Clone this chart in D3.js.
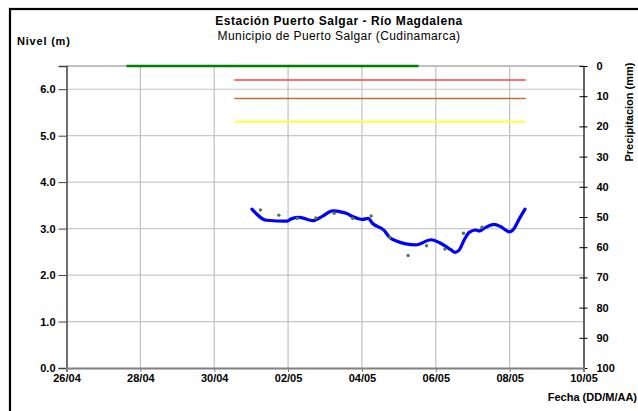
<!DOCTYPE html>
<html><head><meta charset="utf-8">
<script src="https://cdn.jsdelivr.net/npm/d3@7"></script>
<style>
html,body{margin:0;padding:0;background:#fff;overflow:hidden}
text{font-family:"Liberation Sans",Arial,sans-serif}
</style></head><body>
<svg id="c" width="638" height="411"></svg>
<script>
// ---- data ----
const levelTimes = ["2011-05-01T00:30","2011-05-01T10:00","2011-05-01T23:00","2011-05-02T02:00","2011-05-02T07:30","2011-05-02T16:00","2011-05-02T22:30","2011-05-03T05:00","2011-05-03T11:30","2011-05-03T13:45","2011-05-03T18:00","2011-05-04T00:30","2011-05-04T04:00","2011-05-04T07:00","2011-05-04T14:30","2011-05-04T18:00","2011-05-04T22:00","2011-05-05T11:00","2011-05-05T21:00","2011-05-06T02:15","2011-05-06T10:00","2011-05-06T12:30","2011-05-06T15:15","2011-05-06T18:30","2011-05-06T21:45","2011-05-07T02:00","2011-05-07T04:15","2011-05-07T07:30","2011-05-07T14:00","2011-05-07T18:15","2011-05-07T23:45","2011-05-08T03:00","2011-05-08T06:15","2011-05-08T10:00"];
const levelValues = [3.42,3.18,3.16,3.21,3.24,3.17,3.27,3.38,3.35,3.33,3.26,3.20,3.22,3.11,2.96,2.81,2.74,2.65,2.76,2.70,2.54,2.49,2.54,2.76,2.92,2.97,2.95,3.01,3.09,3.04,2.93,3.01,3.21,3.42];
const obsTimes = ["2011-05-01T06:00","2011-05-01T18:00","2011-05-02T06:00","2011-05-02T18:00","2011-05-03T06:00","2011-05-03T18:00","2011-05-04T06:00","2011-05-04T18:00","2011-05-05T06:00","2011-05-05T18:00","2011-05-06T06:00","2011-05-06T18:00","2011-05-07T06:00"];
const obsValues = [3.40,3.29,3.22,3.23,3.33,3.22,3.27,2.81,2.42,2.63,2.56,2.90,3.03];
const thresholdNames = ["verde","rojo","naranja","amarillo"];
const thresholdValues = [6.5,6.2,5.8,5.3];
const thresholdStart = ["2011-04-27T15:00","2011-04-30T13:00","2011-04-30T13:00","2011-04-30T13:00"];
const thresholdEnd = ["2011-05-05T12:45","2011-05-08T10:30","2011-05-08T10:30","2011-05-08T10:30"];
const leftTicks = [0,1,2,3,4,5,6];
const rightTicks = [0,10,20,30,40,50,60,70,80,90,100];
const dateTicks = ["2011-04-26","2011-04-28","2011-04-30","2011-05-02","2011-05-04","2011-05-06","2011-05-08","2011-05-10"];
const title = "Estación Puerto Salgar - Río Magdalena";
const subtitle = "Municipio de Puerto Salgar (Cudinamarca)";

// ---- styles ----
const thresholdColors = {verde:"#008000", rojo:"#ff4040", naranja:"#c0703a", amarillo:"#ffff40"};
const thresholdWidths = {verde:2.5, rojo:1.6, naranja:1.6, amarillo:2.2};

const parse = d3.isoParse;
const svg = d3.select("#c");
const L = 66.5, R = 583.5, T = 66, B = 368;

const x = d3.scaleTime().domain([parse(dateTicks[0]), parse(dateTicks[dateTicks.length-1])]).range([L, R]);
const y = d3.scaleLinear().domain([0, 6.5]).range([B, T]);
const y2 = d3.scaleLinear().domain([0, 100]).range([T, B]);

// outer frame
svg.append("rect").attr("x",10).attr("y",9).attr("width",660).attr("height",440)
  .attr("fill","none").attr("stroke","#000").attr("stroke-width",2.2);

// grid
const g = svg.append("g");
g.selectAll(".hg").data(leftTicks.filter(d=>d>0)).join("line")
  .attr("x1",L).attr("x2",R).attr("y1",d=>y(d)).attr("y2",d=>y(d))
  .attr("stroke","#c8c8c8").attr("stroke-width",1.2);
g.selectAll(".vg").data(dateTicks.slice(1,-1)).join("line")
  .attr("x1",d=>x(parse(d))).attr("x2",d=>x(parse(d))).attr("y1",T).attr("y2",B)
  .attr("stroke","#c0c0c0").attr("stroke-width",1.2);
// top border
g.append("line").attr("x1",L).attr("x2",R).attr("y1",T).attr("y2",T).attr("stroke","#c0c0c0").attr("stroke-width",2);

// thresholds
thresholdNames.forEach((n,i)=>{
  svg.append("line")
    .attr("x1",x(parse(thresholdStart[i]))).attr("x2",x(parse(thresholdEnd[i])))
    .attr("y1",y(thresholdValues[i])).attr("y2",y(thresholdValues[i]))
    .attr("stroke",thresholdColors[n]).attr("stroke-width",thresholdWidths[n]);
});

// axes
const font = "bold 11px 'Liberation Sans', Arial, sans-serif";
const ax = svg.append("g").attr("transform",`translate(${L},0)`)
  .call(d3.axisLeft(y).tickValues(leftTicks).tickFormat(d3.format(".1f")).tickSize(8).tickPadding(3));
ax.select(".domain").attr("stroke","#404040").attr("stroke-width",1.5);
ax.selectAll(".tick line").attr("stroke","#404040");
ax.selectAll("text").style("font",font).attr("fill","#000");

const ay2 = svg.append("g").attr("transform",`translate(${R},0)`)
  .call(d3.axisRight(y2).tickValues(rightTicks).tickSize(0).tickPadding(13));
ay2.select(".domain").attr("stroke","#000").attr("stroke-width",1.2);
ay2.selectAll(".tick").append("line").attr("x1",-4).attr("x2",4).attr("stroke","#000");
ay2.selectAll("text").style("font",font).attr("fill","#000");

const axb = svg.append("g").attr("transform",`translate(0,${B})`)
  .call(d3.axisBottom(x).tickValues(dateTicks.map(parse)).tickFormat(d3.timeFormat("%d/%m")).tickSize(4).tickPadding(2));
axb.select(".domain").attr("stroke","#808080").attr("stroke-width",2.2);
axb.selectAll(".tick line").attr("stroke","#808080");
axb.selectAll("text").style("font",font).attr("fill","#000");

// level line
const line = d3.line().x((d,i)=>x(parse(levelTimes[i]))).y(d=>y(d)).curve(d3.curveMonotoneX);
svg.append("path").datum(levelValues).attr("d",line)
  .attr("fill","none").attr("stroke","#0000ff").attr("stroke-width",3.2).attr("stroke-linejoin","round").attr("stroke-linecap","round");

// observations
svg.selectAll(".obs").data(obsValues).join("circle")
  .attr("cx",(d,i)=>x(parse(obsTimes[i]))).attr("cy",d=>y(d)).attr("r",1.7)
  .attr("fill","#4e7a50");

// titles
svg.append("text").attr("x",339).attr("y",25).attr("text-anchor","middle")
  .style("font","bold 12px 'Liberation Sans', Arial, sans-serif").style("letter-spacing","0.55px").text(title);
svg.append("text").attr("x",339).attr("y",40).attr("text-anchor","middle")
  .style("font","12px 'Liberation Sans', Arial, sans-serif").style("letter-spacing","0.4px").text(subtitle);
svg.append("text").attr("x",17).attr("y",45).style("font",font).style("letter-spacing","0.8px").text("Nivel (m)");
svg.append("text").attr("x",637).attr("y",401).attr("text-anchor","end").style("font",font).text("Fecha (DD/M/AA)");
svg.append("text").attr("transform","translate(633,112) rotate(-90)").attr("text-anchor","middle")
  .style("font",font).text("Precipitacion (mm)");
</script></body></html>
